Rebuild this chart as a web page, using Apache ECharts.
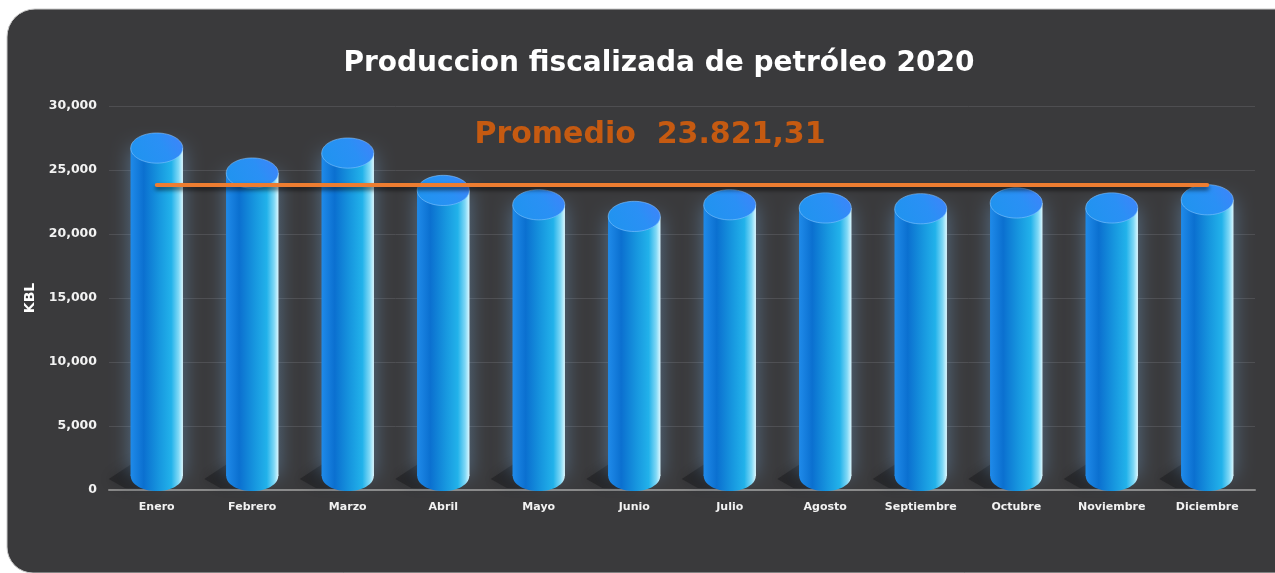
<!DOCTYPE html>
<html>
<head>
<meta charset="utf-8">
<script src="https://cdn.jsdelivr.net/npm/echarts@6/dist/echarts.min.js"></script>
<style>
html,body{margin:0;padding:0;background:#ffffff;}
#chart{width:1275px;height:573px;}
</style>
</head>
<body>
<div id="chart"></div>
<script>
const titleText = 'Produccion fiscalizada de petróleo 2020';
const categories = ['Enero','Febrero','Marzo','Abril','Mayo','Junio','Julio','Agosto','Septiembre','Octubre','Noviembre','Diciembre'];
const produccion = [27340, 25390, 26950, 24030, 22910, 22000, 22910, 22660, 22600, 23050, 22660, 23300];
const promedio = 23821.31;
const yAxisName = 'KBL';

function fmtEs(v){
  const parts = v.toFixed(2).split('.');
  const intPart = parts[0].replace(/\B(?=(\d{3})+(?!\d))/g, '.');
  return intPart + ',' + parts[1];
}

const FONT = '"DejaVu Sans", sans-serif';
const chart = echarts.init(document.getElementById('chart'));

function renderItem(params, api){
  const x = api.value(0);
  const v = api.value(1);
  const top = api.coord([x, v]);
  const base = api.coord([x, 0]);
  const w = api.size([1, 0])[0] * 0.545;
  const cx = top[0];
  const rx = w / 2;
  const ry = w * 0.29;
  const topCy = top[1] + 8;
  const botCy = base[1] - 14;
  const bodyGrad = new echarts.graphic.LinearGradient(0, 0, 1, 0, [
    {offset: 0, color: '#1f8ae9'},
    {offset: 0.25, color: '#0b70d0'},
    {offset: 0.55, color: '#1797df'},
    {offset: 0.78, color: '#22b2ea'},
    {offset: 0.92, color: '#7fd8f6'},
    {offset: 1, color: '#d8f6ff'}
  ]);
  const topGrad = new echarts.graphic.LinearGradient(0, 1, 1, 0, [
    {offset: 0, color: '#1e94ee'},
    {offset: 0.6, color: '#2a90f5'},
    {offset: 1, color: '#4282fb'}
  ]);
  return {
    type: 'group',
    children: [
      {
        type: 'polygon',
        shape: {points: [
          [cx - rx + 4, botCy - 14],
          [cx - rx - 22, botCy + 3],
          [cx - rx - 6, botCy + 12],
          [cx, botCy + ry - 2]
        ]},
        style: {fill: 'rgba(15,15,17,0.35)', shadowBlur: 12, shadowColor: 'rgba(0,0,0,0.6)'},
        silent: true
      },
      {
        type: 'rect',
        shape: {x: cx - rx, y: topCy, width: w, height: botCy - topCy},
        style: {fill: bodyGrad, shadowBlur: 20, shadowColor: 'rgba(120,180,235,0.45)'}
      },
      {
        type: 'ellipse',
        shape: {cx: cx, cy: botCy, rx: rx, ry: ry},
        style: {fill: bodyGrad}
      },
      {
        type: 'rect',
        shape: {x: cx - rx, y: topCy, width: w, height: botCy - topCy},
        style: {fill: bodyGrad}
      },
      {
        type: 'ellipse',
        shape: {cx: cx, cy: topCy, rx: rx, ry: ry},
        style: {fill: topGrad, stroke: 'rgba(140,200,255,0.55)', lineWidth: 1}
      }
    ]
  };
}

const option = {
  backgroundColor: '#ffffff',
  animation: false,
  graphic: [
    {
      type: 'rect', z: -10, silent: true,
      shape: {x: 7, y: 9, width: 1290, height: 564, r: [28, 22, 22, 26]},
      style: {fill: '#3a3a3c', stroke: '#c9c9c9', lineWidth: 1}
    },
    {
      type: 'text', z: 10, x: 659, y: 64,
      style: {text: titleText, fill: '#ffffff', font: 'bold 28px ' + FONT, align: 'center', verticalAlign: 'middle'}
    },
    {
      type: 'text', z: 10, x: 650, y: 135,
      style: {text: 'Promedio  ' + fmtEs(promedio), fill: '#c55a11', font: 'bold 30px ' + FONT, align: 'center', verticalAlign: 'middle'}
    }
  ],
  grid: {left: 109, right: 20, top: 106, bottom: 83},
  xAxis: {
    type: 'category',
    data: categories,
    axisTick: {show: false},
    axisLine: {show: true, lineStyle: {color: '#8a8a8a', width: 2}},
    axisLabel: {color: '#f2f2f2', fontFamily: FONT, fontWeight: 'bold', fontSize: 11, margin: 12}
  },
  yAxis: {
    type: 'value',
    min: 0, max: 30000, interval: 5000,
    name: yAxisName,
    nameLocation: 'middle',
    nameGap: 72,
    nameRotate: 90,
    nameTextStyle: {color: '#ffffff', fontFamily: FONT, fontWeight: 'bold', fontSize: 14},
    axisLine: {show: false},
    axisTick: {show: false},
    splitLine: {lineStyle: {color: '#4e4e51', width: 1}},
    axisLabel: {
      color: '#f2f2f2', fontFamily: FONT, fontWeight: 'bold', fontSize: 12.5, margin: 12,
      formatter: v => v.toString().replace(/\B(?=(\d{3})+(?!\d))/g, ',')
    }
  },
  series: [
    {
      type: 'custom',
      renderItem: renderItem,
      data: categories.map((c, i) => [i, produccion[i]]),
      encode: {x: 0, y: 1},
      z: 2
    },
    {
      type: 'line',
      data: [],
      z: 5,
      markLine: {
        silent: true,
        symbol: 'none',
        label: {show: false},
        lineStyle: {color: '#ed7d31', width: 4, type: 'solid', cap: 'round',
          shadowColor: 'rgba(0,0,0,0.6)', shadowBlur: 4, shadowOffsetY: 3},
        data: [[
          {coord: [categories[0], promedio]},
          {coord: [categories[categories.length - 1], promedio]}
        ]]
      }
    }
  ]
};
chart.setOption(option);
</script>
</body>
</html>
